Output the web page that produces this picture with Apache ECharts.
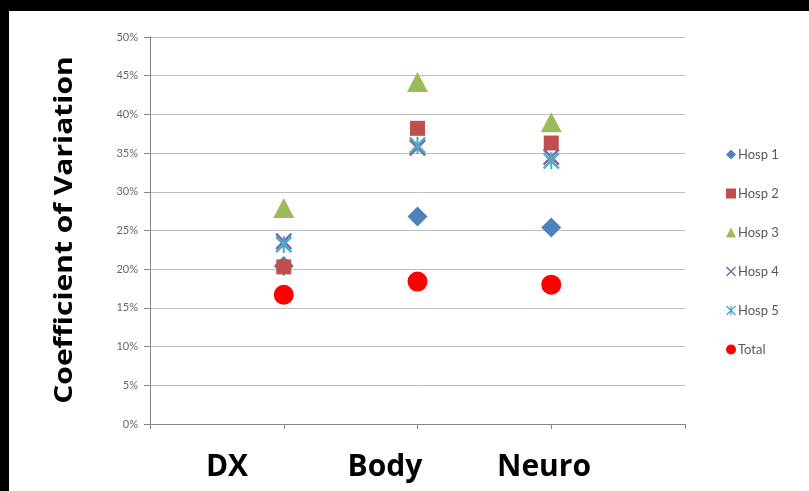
<!DOCTYPE html>
<html><head><meta charset="utf-8">
<script src="https://cdn.jsdelivr.net/npm/echarts@6/dist/echarts.min.js"></script>
<style>
html,body{margin:0;padding:0;background:#000;width:809px;height:491px;overflow:hidden;}
#c{position:absolute;left:9px;top:11px;width:800px;height:480px;background:#fff;}
</style></head>
<body><div id="c"></div>
<script>
const categories = ['DX', 'Body', 'Neuro'];
const categoryPositions = [1, 2, 3];
const yTicks = [0, 0.05, 0.10, 0.15, 0.20, 0.25, 0.30, 0.35, 0.40, 0.45, 0.50];
const hosp1 = [0.204, 0.268, 0.254];
const hosp2 = [0.203, 0.382, 0.363];
const hosp3 = [0.279, 0.442, 0.390];
const hosp4 = [0.236, 0.357, 0.345];
const hosp5 = [0.232, 0.360, 0.340];
const total = [0.167, 0.184, 0.180];

const xPath = 'path://M0,1 L1,0 L5,4 L9,0 L10,1 L6,5 L10,9 L9,10 L5,6 L1,10 L0,9 L4,5 Z';
const starPath = 'path://M0,1 L1,0 L5,4 L9,0 L10,1 L6,5 L10,9 L9,10 L5,6 L1,10 L0,9 L4,5 Z M4.4,0 L5.6,0 L5.6,10 L4.4,10 Z';

function pts(arr){ return arr.map((v,i)=>[categoryPositions[i], v]); }

const seriesDefs = [
  {name:'Hosp 1', data:hosp1, symbol:'diamond', size:[20,20], color:'#4F81BD'},
  {name:'Hosp 2', data:hosp2, symbol:'rect', size:[15,15], color:'#C0504D'},
  {name:'Hosp 3', data:hosp3, symbol:'triangle', size:[21,20], color:'#9BBB59'},
  {name:'Hosp 4', data:hosp4, symbol:xPath, size:[17,17], color:'#8064A2'},
  {name:'Hosp 5', data:hosp5, symbol:starPath, size:[17,17], color:'#4BACC6'},
  {name:'Total', data:total, symbol:'circle', size:[20,20], color:'#FF0000'}
];

const chart = echarts.init(document.getElementById('c'), null, {renderer:'canvas'});
const labelXs = [218, 376, 535];
chart.setOption({
  animation:false,
  backgroundColor:'#fff',
  grid:{left:141, right:124, top:26, bottom:67},
  xAxis:{type:'value', min:0, max:4, interval:1,
    axisLine:{show:true, lineStyle:{color:'#868686', width:1}},
    axisTick:{show:true, length:5, lineStyle:{color:'#868686'}},
    axisLabel:{show:false}, splitLine:{show:false}},
  yAxis:{type:'value', min:0, max:0.5, interval:0.05,
    axisLine:{show:true, lineStyle:{color:'#868686', width:1}},
    axisTick:{show:true, length:6, lineStyle:{color:'#868686'}},
    axisLabel:{color:'#666', fontFamily:'Lato', fontSize:11, margin:12,
      formatter:v=>Math.round(v*100)+'%'},
    splitLine:{show:true, lineStyle:{color:'#bdbdbd', width:1}}},
  legend:{orient:'vertical', left:712, top:132, itemGap:26, itemWidth:10, itemHeight:10,
    textStyle:{color:'#595959', fontFamily:'Lato', fontSize:13, padding:[0,0,0,-3]},
    data:seriesDefs.map(s=>s.name)},
  graphic:[
    {type:'text', x:56, y:219, rotation:Math.PI/2, scaleX:1.2,
      style:{text:'Coefficient of Variation', font:'bold 25px "Open Sans"', fill:'#000', textAlign:'center', textVerticalAlign:'middle'}}
  ].concat(categories.map((c,i)=>({type:'text', x:labelXs[i], y:456,
    style:{text:c, font:'bold 30px "Open Sans"', fill:'#000', textAlign:'center', textVerticalAlign:'middle'}}))),
  series: seriesDefs.map(s=>({name:s.name, type:'scatter', data:pts(s.data),
    symbol:s.symbol, symbolSize:s.size, itemStyle:{color:s.color, opacity:1}}))
});
</script></body></html>
